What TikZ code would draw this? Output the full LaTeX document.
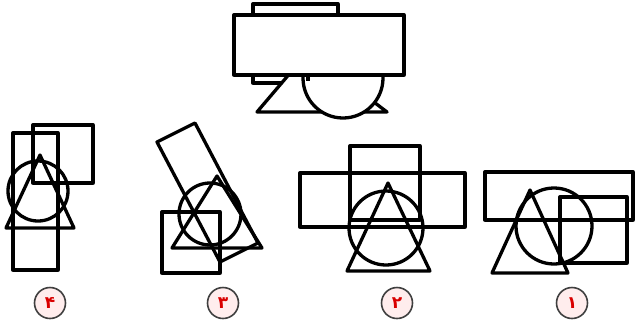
\documentclass[tikz,border=0pt]{standalone}
\usepackage{fontspec}
\newfontfamily\arabicfont[Script=Arabic]{DejaVu Sans}
\TeXXeTstate=1
\begin{document}
\begin{tikzpicture}[x=1pt,y=-1pt,
  shp/.style={draw=black, line width=3.3pt, line join=round},
  topshp/.style={shp, fill=white},
  lbl/.style={circle, draw=black!75, line width=1.6pt, fill=red!7, minimum size=31pt, inner sep=0pt,
    text=red!85!black, font=\arabicfont\fontsize{17}{17}\selectfont\bfseries}]
\useasboundingbox (0,0) rectangle (636,330);
% ---------- top figure (stacked view) ----------
\draw[topshp] (253,4) rectangle (338,83);
\draw[topshp] (257,112) -- (387,112) -- (308,52) -- cycle;
\draw[topshp] (343,78) circle (40);
\draw[topshp] (234,15) rectangle (404,75);
\draw[shp] (308,75) -- (308,81);
% ---------- option 4 ----------
\draw[shp] (13,133) rectangle (58,270);
\draw[shp] (33,125) rectangle (93,183);
\draw[shp] (38,191) circle (30);
\draw[shp] (40,155) -- (6,228) -- (74,228) -- cycle;
\node[lbl] (l4) at (50,303) {۴};
% ---------- option 3 ----------
\draw[shp] (157,142) -- (195,123) -- (258,243) -- (220,262) -- cycle;
\draw[shp] (162,212) rectangle (220,273);
\draw[shp] (217,176) -- (172,248) -- (262,248) -- cycle;
\draw[shp] (210,214) circle (31);
\node[lbl] (l3) at (223,303) {۳};
% ---------- option 2 ----------
\draw[shp] (300,173) rectangle (465,227);
\draw[shp] (350,146) rectangle (420,220);
\draw[shp] (386,228) circle (37);
\draw[shp] (388,183) -- (347,271) -- (430,271) -- cycle;
\node[lbl] (l2) at (397,303) {۲};
% ---------- option 1 ----------
\draw[shp] (485,172) rectangle (633,220);
\draw[shp] (560,197) rectangle (627,263);
\draw[shp] (554,226) circle (38);
\draw[shp] (530,190) -- (492,273) -- (568,273) -- cycle;
\node[lbl] (l1) at (572,303) {۱};
\end{tikzpicture}
\end{document}
